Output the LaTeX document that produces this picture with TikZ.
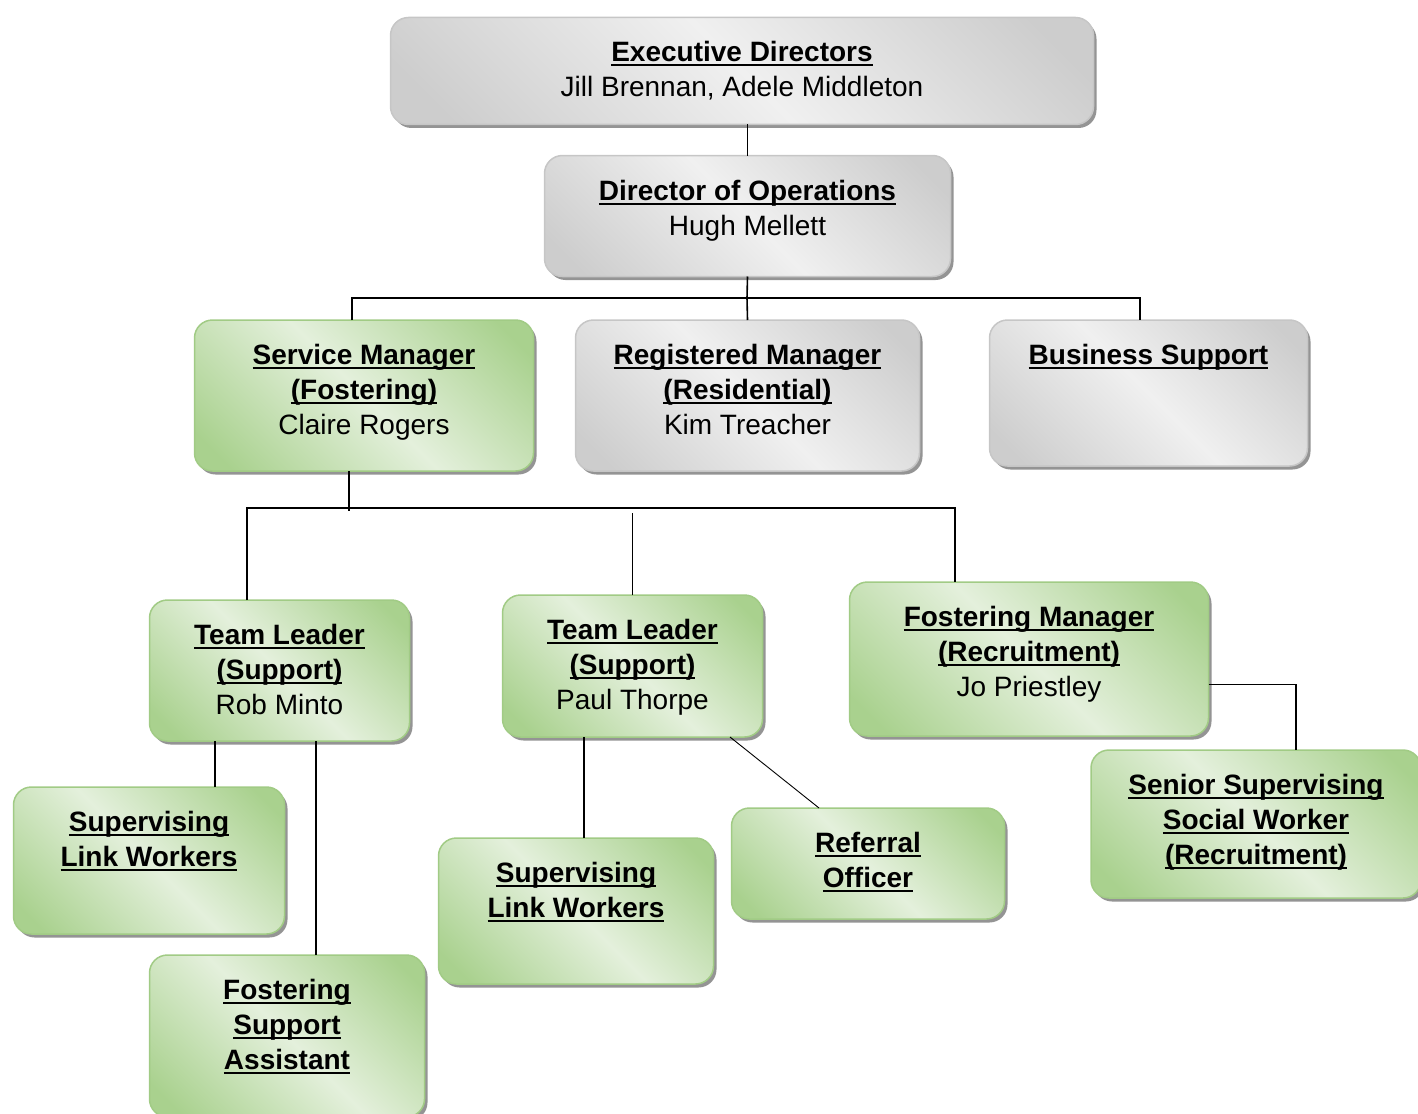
\documentclass[tikz,border=0pt]{standalone}
\usepackage{fontspec}
\setmainfont{Liberation Sans}
\usetikzlibrary{positioning,shadows}

\definecolor{glight}{HTML}{E4F0DC}
\definecolor{gdark}{HTML}{A9D18E}
\definecolor{gline}{HTML}{A1CB85}
\definecolor{gylight}{HTML}{F0F0F0}
\definecolor{gydark}{HTML}{CDCDCD}
\definecolor{gyline}{HTML}{C6C6C6}

\pgfdeclarehorizontalshading{greenband}{100bp}{color(0bp)=(gdark); color(20bp)=(gdark); color(50bp)=(glight); color(80bp)=(gdark); color(100bp)=(gdark)}
\pgfdeclarehorizontalshading{greyband}{100bp}{color(0bp)=(gydark); color(20bp)=(gydark); color(50bp)=(gylight); color(80bp)=(gydark); color(100bp)=(gydark)}

% title line, underlined the way the chart does it
\newcommand{\hd}[1]{\leavevmode\setbox0=\hbox{\bfseries #1}\rlap{\rule[-4.5pt]{\wd0}{2pt}}\box0}
% box body: width, height, lines (top aligned)
\newcommand{\card}[3]{\parbox[c][#2][t]{#1}{\centering\rule{0pt}{44.5pt}#3}}

\tikzset{
  orgbox/.style={line width=1.5pt, rounded corners=18pt, inner sep=0pt, outer sep=0pt,
    font=\fontsize{28}{35}\selectfont,
    drop shadow={shadow xshift=3pt, shadow yshift=-3.5pt, fill=black!42, opacity=1}},
  greenbox/.style={orgbox, draw=gline, shading=greenband, shading angle=45},
  greybox/.style={orgbox, draw=gyline, shading=greyband, shading angle=45},
  conn/.style={line width=1.6pt},
}

\begin{document}
\begin{tikzpicture}[x=1pt,y=-1pt]
  \useasboundingbox (0,0) rectangle (1418,1113);

  % top of the chart
  \node[greybox] (exec) at (742,71) {\card{703pt}{107pt}{\hd{Executive Directors}\\Jill Brennan, Adele Middleton}};
  \node[greybox, below=31pt of exec, xshift=5.5pt] (ops) {\card{406pt}{121pt}{\hd{Director of Operations}\\Hugh Mellett}};

  % managers
  \node[greybox, below=43.5pt of ops] (reg) {\card{344pt}{151pt}{\hd{Registered Manager}\\\hd{(Residential)}\\Kim Treacher}};
  \node[greenbox, left=42pt of reg] (svc) {\card{339pt}{151pt}{\hd{Service Manager}\\\hd{(Fostering)}\\Claire Rogers}};
  \node[greybox, right=70pt of reg.north east, anchor=north west] (bus) {\card{318pt}{146pt}{\hd{Business Support}}};

  % fostering team
  \node[greenbox, below=124pt of reg, xshift=-115pt] (tlpaul) {\card{260pt}{142pt}{\hd{Team Leader}\\\hd{(Support)}\\Paul Thorpe}};
  \node[greenbox, left=93pt of tlpaul, yshift=-4.5pt] (tlrob) {\card{260pt}{141pt}{\hd{Team Leader}\\\hd{(Support)}\\Rob Minto}};
  \node[greenbox, right=87pt of tlpaul, yshift=7pt] (fman) {\card{359pt}{154pt}{\hd{Fostering Manager}\\\hd{(Recruitment)}\\Jo Priestley}};

  \node[greenbox, below=46pt of tlrob, xshift=-130.5pt] (slwa) {\card{271pt}{147pt}{\hd{Supervising}\\\hd{Link Workers}}};
  \node[greenbox, below=21pt of slwa, xshift=138pt] (fsa) {\card{275pt}{162pt}{\hd{Fostering}\\\hd{Support}\\\hd{Assistant}}};
  \node[greenbox, below=101pt of tlpaul, xshift=-56.5pt] (slwb) {\card{275pt}{146pt}{\hd{Supervising}\\\hd{Link Workers}}};
  \node[greenbox, right=18pt of slwb, yshift=47.5pt] (refo) {\card{273pt}{111pt}{\hd{Referral}\\\hd{Officer}}};
  \node[greenbox, below=14pt of fman, xshift=227pt] (senior) {\card{330pt}{148pt}{\hd{Senior Supervising}\\\hd{Social Worker}\\\hd{(Recruitment)}}};

  % lines
  \coordinate (j1) at (747,298);
  \coordinate (j2) at (348,508);
  \draw[conn] (ops.north) -- (ops.north |- exec.south);
  \draw[conn] (ops.south) -- (j1);
  \draw[conn] ([xshift=-12pt]svc.north) |- (j1) -| ([xshift=-8.5pt]bus.north);
  \draw[conn] (j1) -- (reg.north);
  \draw[conn] ([xshift=-15pt]svc.south) -- ([xshift=-15pt,yshift=-40pt]svc.south);
  \draw[conn] ([xshift=-32.5pt]tlrob.north) |- (j2) -| ([xshift=-74pt]fman.north);
  \draw[conn] (tlpaul.north) -- ([yshift=-5pt]tlpaul.north |- j2);
  \draw[conn] ([xshift=66pt]slwa.north) -- ([xshift=66pt]slwa.north |- tlrob.south);
  \draw[conn] ([xshift=29pt]fsa.north) -- ([xshift=29pt]fsa.north |- tlrob.south);
  \draw[conn] ([xshift=8pt]slwb.north) -- ([xshift=8pt]slwb.north |- tlpaul.south);
  \draw[line width=0.9pt] ([xshift=97.5pt]tlpaul.south) -- ([xshift=-49pt]refo.north);
  \draw[conn] ([yshift=-25.5pt]fman.east) -| ([xshift=40pt]senior.north);
\end{tikzpicture}
\end{document}
